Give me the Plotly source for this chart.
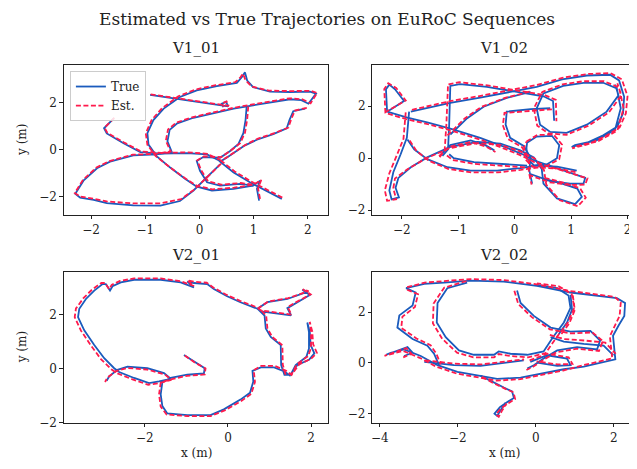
import plotly.graph_objects as go

FONT = "DejaVu Serif"
BLUE = "#1a5bbd"
RED = "#ff1a4c"

titles = ["V1_01", "V1_02", "V2_01", "V2_02"]
legend_names = ["True", "Est."]

# ---------------- V1_01 ----------------
v101_true = [
    [(-0.91, 2.34), (-0.48, 2.20), (-0.05, 2.06), (0.32, 1.94), (0.53, 1.85), (0.49, 2.04), (0.41, 1.96), (0.44, 1.81)],
    [(-1.58, 1.33), (-1.76, 0.91), (-1.71, 0.69), (-1.40, 0.27), (-1.09, -0.11), (-0.72, -0.17), (-0.23, -0.15), (0.14, -0.21), (0.38, -0.49)],
    [(0.38, -0.63), (0.14, -1.19), (-0.11, -1.75), (-0.36, -2.20), (-0.72, -2.40), (-1.22, -2.39), (-1.71, -2.29), (-1.95, -2.15),
     (-2.20, -2.06), (-2.29, -1.89), (-2.14, -1.33), (-1.89, -0.80), (-1.65, -0.52), (-1.22, -0.25), (-0.79, -0.21), (-0.51, -0.11),
     (-0.59, 0.35), (-0.55, 0.84), (-0.41, 1.12), (-0.11, 1.36), (0.26, 1.57), (0.63, 1.75), (0.99, 1.89), (1.36, 2.04), (1.67, 2.15),
     (1.88, 2.11), (2.01, 1.96), (2.15, 2.39), (2.04, 2.48), (1.67, 2.46), (1.30, 2.48), (0.99, 2.67), (0.88, 2.95), (0.84, 3.30),
     (0.78, 3.09), (0.69, 2.85), (0.32, 2.71), (-0.05, 2.53), (-0.36, 2.25), (-0.66, 1.75), (-0.85, 1.26), (-0.96, 0.70), (-0.94, 0.21),
     (-0.79, -0.28), (-0.54, -0.77), (-0.26, -1.26), (-0.05, -1.59), (0.23, -1.75), (0.63, -1.68), (0.99, -1.54)],
    [(1.95, 1.75), (1.73, 1.64), (1.66, 1.26), (1.61, 0.91), (1.36, 0.66), (1.06, 0.42), (0.84, 0.18), (0.69, -0.07), (0.50, -0.35),
     (0.38, -0.52), (0.63, -0.98), (0.93, -1.40), (1.21, -1.73), (1.52, -2.11)],
    [(0.87, 1.82), (0.85, 1.26), (0.81, 0.70), (0.72, 0.24), (0.56, -0.07), (0.38, -0.35), (0.07, -0.32), (-0.05, -0.49), (0.01, -0.91),
     (0.14, -1.40), (0.38, -1.54), (0.75, -1.47), (0.99, -1.54), (1.12, -1.33), (1.06, -1.68), (1.10, -2.18)],
]
v101_est = [
    [(-0.90, 2.36), (-0.47, 2.22), (-0.04, 2.08), (0.33, 1.96), (0.54, 1.87), (0.50, 2.06), (0.42, 1.98), (0.45, 1.83)],
    [(-1.57, 1.36), (-1.75, 0.93), (-1.70, 0.72), (-1.39, 0.30), (-1.08, -0.08), (-0.71, -0.14), (-0.22, -0.12), (0.15, -0.18), (0.39, -0.46)],
    [(0.40, -0.60), (0.16, -1.15), (-0.09, -1.70), (-0.34, -2.12), (-0.72, -2.30), (-1.22, -2.30), (-1.71, -2.22), (-1.95, -2.10),
     (-2.20, -2.01), (-2.30, -1.86), (-2.15, -1.30), (-1.90, -0.77), (-1.66, -0.49), (-1.23, -0.22), (-0.80, -0.18), (-0.53, -0.08),
     (-0.62, 0.37), (-0.58, 0.86), (-0.43, 1.15), (-0.12, 1.39), (0.25, 1.60), (0.62, 1.78), (0.98, 1.93), (1.35, 2.08), (1.66, 2.19),
     (1.90, 2.15), (2.05, 1.98), (2.17, 2.42), (2.05, 2.51), (1.66, 2.50), (1.28, 2.52), (0.96, 2.70), (0.85, 2.97), (0.80, 3.25),
     (0.76, 3.10), (0.66, 2.88), (0.30, 2.75), (-0.07, 2.57), (-0.39, 2.28), (-0.69, 1.77), (-0.88, 1.27), (-0.99, 0.70), (-0.96, 0.20),
     (-0.81, -0.27), (-0.55, -0.75), (-0.27, -1.22), (-0.05, -1.55), (0.24, -1.70), (0.64, -1.63), (1.00, -1.50)],
    [(1.98, 1.78), (1.76, 1.67), (1.69, 1.28), (1.64, 0.94), (1.38, 0.70), (1.07, 0.46), (0.86, 0.22), (0.71, -0.03), (0.52, -0.31),
     (0.40, -0.48), (0.65, -0.94), (0.95, -1.36), (1.23, -1.70), (1.55, -2.08)],
    [(0.90, 1.84), (0.88, 1.28), (0.84, 0.72), (0.75, 0.27), (0.58, -0.04), (0.40, -0.32), (0.08, -0.29), (-0.04, -0.46), (0.03, -0.88),
     (0.16, -1.36), (0.40, -1.50), (0.76, -1.43), (1.00, -1.50), (1.14, -1.30), (1.08, -1.65), (1.12, -2.14)],
]

# ---------------- V1_02 ----------------
v102_true = [
    [(-2.26, 1.79), (-1.96, 2.20), (-2.12, 2.65), (-2.22, 2.83), (-2.28, 2.65), (-2.26, 1.79), (-1.90, 1.56), (-1.55, 1.38), (-1.14, 1.14),
     (-0.61, 0.78), (-0.14, 0.40), (0.16, 0.13), (0.34, -0.08), (0.63, -0.29), (0.98, -0.54), (1.25, -0.76), (1.22, -0.98), (0.98, -0.98),
     (0.63, -0.88), (0.28, -0.61)],
    [(-1.84, 1.79), (-1.55, 1.92), (-1.14, 2.13), (-0.61, 2.33), (-0.08, 2.55), (0.39, 2.74), (0.84, 3.03), (1.28, 3.18), (1.69, 3.21),
     (1.85, 2.99), (1.94, 2.36), (1.92, 1.73), (1.82, 1.22), (1.57, 0.88), (1.28, 0.59), (1.01, 0.43), (1.07, 0.50), (1.45, 0.68),
     (1.78, 1.10), (1.88, 1.92), (1.81, 2.68), (1.57, 2.90), (1.22, 2.90), (0.86, 2.78), (0.51, 2.49), (0.39, 1.92), (0.45, 1.29),
     (0.63, 1.01), (0.92, 0.97), (1.28, 1.29), (1.63, 1.79), (1.84, 2.42), (1.78, 2.83)],
    [(-1.87, 1.79), (-1.89, 1.29), (-1.91, 0.78), (-2.02, 0.15), (-2.15, -0.54), (-2.22, -1.24), (-2.18, -1.59), (-2.05, -1.51),
     (-2.11, -1.14), (-2.06, -0.76), (-1.84, -0.35), (-1.55, 0.03), (-1.14, 0.43), (-0.66, 0.63), (-0.25, 0.56), (0.10, 0.30),
     (0.34, 0.03), (0.48, -0.42), (0.51, -0.98), (0.75, -1.55), (1.07, -1.77), (1.19, -1.49), (1.11, -1.17), (0.84, -0.98), (0.51, -0.79)],
    [(-1.90, 0.72), (-1.78, 0.34), (-1.55, -0.04), (-1.19, -0.35), (-0.78, -0.48), (-0.31, -0.48), (0.10, -0.38), (0.39, -0.29),
     (0.75, -0.33), (1.10, -0.48)],
    [(-1.28, 0.09), (-1.18, 0.34), (-1.16, 1.29), (-1.15, 2.17), (-1.14, 2.78), (-0.97, 2.85), (-0.49, 2.74), (0.04, 2.55), (0.51, 2.38),
     (0.68, 2.20), (0.69, 1.79), (0.70, 1.44)],
    [(-1.31, 0.13), (-1.14, 0.50), (-0.78, 0.68), (-0.52, 0.50), (-0.36, 0.30)],
    [(-1.16, 0.15), (-1.08, 0.00), (-0.72, -0.15), (-0.19, -0.23), (0.22, -0.29)],
    [(-1.14, 0.91), (-0.84, 1.54), (-0.55, 1.98), (-0.14, 2.32), (0.28, 2.55)],
    [(0.63, 1.92), (0.28, 1.89), (-0.14, 1.79), (-0.16, 1.29), (-0.08, 0.78), (0.16, 0.47), (0.28, 0.03), (0.26, -0.48), (0.31, -0.98)],
    [(0.22, 0.59), (0.39, 0.83), (0.66, 0.86), (0.79, 0.50), (0.75, 0.00), (0.56, -0.25), (0.34, -0.28), (0.22, 0.00), (0.21, 0.40), (0.22, 0.59)],
]
v102_est = [
    [(-2.30, 1.76), (-1.93, 2.22), (-2.10, 2.70), (-2.24, 2.88), (-2.31, 2.66), (-2.29, 1.74), (-1.92, 1.50), (-1.56, 1.32), (-1.15, 1.08),
     (-0.62, 0.72), (-0.15, 0.34), (0.15, 0.07), (0.34, -0.14), (0.64, -0.34), (0.99, -0.58), (1.29, -0.78), (1.25, -1.02), (0.98, -1.03),
     (0.62, -0.93), (0.27, -0.66)],
    [(-1.82, 1.86), (-1.54, 1.99), (-1.13, 2.20), (-0.60, 2.40), (-0.07, 2.62), (0.40, 2.82), (0.86, 3.10), (1.30, 3.24), (1.70, 3.27),
     (1.90, 3.03), (2.00, 2.38), (1.97, 1.72), (1.86, 1.18), (1.60, 0.83), (1.30, 0.54), (1.02, 0.38), (1.08, 0.46), (1.47, 0.64),
     (1.82, 1.06), (1.93, 1.92), (1.85, 2.72), (1.58, 2.96), (1.22, 2.96), (0.85, 2.84), (0.49, 2.55), (0.34, 1.92), (0.40, 1.25),
     (0.60, 0.95), (0.92, 0.90), (1.30, 1.24), (1.67, 1.76), (1.89, 2.42), (1.82, 2.88)],
    [(-1.93, 1.76), (-1.95, 1.27), (-1.97, 0.74), (-2.09, 0.10), (-2.22, -0.58), (-2.30, -1.24), (-2.26, -1.64), (-2.10, -1.58),
     (-2.15, -1.16), (-2.12, -0.78), (-1.88, -0.40), (-1.58, -0.02), (-1.16, 0.38), (-0.67, 0.58), (-0.25, 0.51), (0.11, 0.25),
     (0.36, -0.02), (0.52, -0.46), (0.56, -1.02), (0.80, -1.62), (1.12, -1.85), (1.26, -1.52), (1.16, -1.16), (0.86, -0.94), (0.52, -0.75)],
    [(-1.86, 0.68), (-1.74, 0.28), (-1.52, -0.10), (-1.17, -0.42), (-0.77, -0.55), (-0.30, -0.55), (0.11, -0.45), (0.40, -0.36),
     (0.76, -0.40), (1.12, -0.55)],
    [(-1.33, 0.04), (-1.24, 0.30), (-1.21, 1.28), (-1.20, 2.17), (-1.18, 2.84), (-0.98, 2.92), (-0.48, 2.80), (0.05, 2.60), (0.53, 2.43),
     (0.73, 2.24), (0.74, 1.80), (0.74, 1.42)],
    [(-1.34, 0.08), (-1.15, 0.44), (-0.78, 0.62), (-0.50, 0.44), (-0.34, 0.24)],
    [(-1.20, 0.10), (-1.10, -0.07), (-0.72, -0.22), (-0.19, -0.30), (0.23, -0.36)],
    [(-1.19, 0.88), (-0.89, 1.52), (-0.59, 1.97), (-0.17, 2.32), (0.27, 2.56)],
    [(0.66, 1.88), (0.29, 1.83), (-0.18, 1.74), (-0.21, 1.27), (-0.12, 0.74), (0.13, 0.42), (0.26, -0.02), (0.25, -0.52), (0.30, -1.02)],
    [(0.21, 0.64), (0.40, 0.89), (0.69, 0.91), (0.84, 0.52), (0.79, -0.04), (0.57, -0.30), (0.32, -0.33), (0.18, -0.02), (0.17, 0.42), (0.21, 0.64)],
]

# ---------------- V2_01 ----------------
v201_true = [
    [(-1.06, 0.50), (-0.82, 0.26), (-0.56, 0.01), (-0.58, -0.18), (-0.98, -0.23), (-1.38, -0.35), (-1.58, -0.50), (-1.62, -0.96),
     (-1.58, -1.39), (-1.46, -1.66), (-0.98, -1.72), (-0.42, -1.72), (-0.10, -1.51), (0.30, -1.15), (0.53, -0.90), (0.61, -0.48),
     (0.59, -0.09), (0.79, 0.04), (1.11, 0.04), (1.36, -0.11), (1.49, -0.26), (1.67, 0.13), (1.95, 0.32), (2.08, 0.56), (1.99, 0.87),
     (1.97, 1.35), (1.91, 1.70), (1.95, 1.35), (1.95, 0.74), (1.89, 0.44), (1.63, 0.13), (1.51, -0.23), (1.36, -0.23), (1.28, 0.13),
     (1.27, 0.87), (1.03, 1.17), (0.91, 1.48), (0.88, 1.96), (0.71, 2.21), (0.95, 2.45), (1.43, 2.57), (1.92, 2.84), (1.79, 2.91),
     (1.97, 2.72), (1.59, 2.39), (1.43, 2.23), (1.52, 1.96), (1.19, 2.02), (0.79, 2.11), (0.71, 2.21), (0.30, 2.45), (-0.02, 2.67),
     (-0.34, 2.94), (-0.50, 3.12), (-0.82, 3.16), (-0.98, 3.21), (-0.82, 3.00), (-1.14, 3.18), (-1.62, 3.28), (-2.26, 3.28),
     (-2.58, 3.18), (-2.78, 3.04), (-2.84, 2.88), (-2.94, 3.12), (-3.02, 3.12), (-3.22, 2.88), (-3.42, 2.57), (-3.58, 2.21),
     (-3.61, 1.90), (-3.46, 1.41), (-3.22, 0.87), (-2.98, 0.38), (-2.74, 0.01), (-2.62, -0.13), (-2.26, -0.35), (-1.90, -0.54),
     (-1.66, -0.48), (-1.38, -0.38), (-1.54, -0.17), (-1.94, 0.01), (-2.42, 0.07), (-2.66, -0.05), (-2.86, -0.29), (-2.92, -0.45)],
]
v201_est = [
    [(-1.04, 0.48), (-0.80, 0.22), (-0.54, 0.00), (-0.56, -0.22), (-0.98, -0.27), (-1.38, -0.40), (-1.62, -0.52), (-1.66, -0.96),
     (-1.62, -1.41), (-1.48, -1.70), (-0.98, -1.76), (-0.42, -1.76), (-0.08, -1.55), (0.32, -1.20), (0.56, -0.94), (0.65, -0.50),
     (0.62, -0.06), (0.80, 0.10), (1.12, 0.10), (1.40, -0.08), (1.53, -0.24), (1.72, 0.16), (2.00, 0.36), (2.14, 0.58), (2.05, 0.90),
     (2.03, 1.36), (1.97, 1.72), (2.00, 1.36), (2.00, 0.76), (1.93, 0.46), (1.66, 0.16), (1.54, -0.19), (1.38, -0.20), (1.32, 0.14),
     (1.31, 0.86), (1.07, 1.16), (0.95, 1.48), (0.92, 1.96), (0.74, 2.24), (0.97, 2.48), (1.45, 2.60), (1.94, 2.86), (1.80, 2.93),
     (1.99, 2.74), (1.60, 2.42), (1.44, 2.27), (1.53, 1.99), (1.19, 2.06), (0.79, 2.15), (0.70, 2.26), (0.29, 2.50), (-0.03, 2.72),
     (-0.35, 2.99), (-0.51, 3.17), (-0.82, 3.21), (-0.98, 3.26), (-0.82, 3.05), (-1.14, 3.23), (-1.62, 3.33), (-2.26, 3.33),
     (-2.60, 3.24), (-2.80, 3.09), (-2.86, 2.93), (-2.96, 3.16), (-3.05, 3.16), (-3.27, 2.92), (-3.48, 2.60), (-3.66, 2.22),
     (-3.69, 1.90), (-3.54, 1.40), (-3.30, 0.85), (-3.06, 0.35), (-2.81, -0.03), (-2.68, -0.17), (-2.30, -0.40), (-1.92, -0.60),
     (-1.66, -0.54), (-1.36, -0.42), (-1.52, -0.22), (-1.94, -0.04), (-2.42, 0.02), (-2.68, -0.09), (-2.90, -0.33), (-2.96, -0.50)],
]

# ---------------- V2_02 ----------------
v202_true = [
    [(-3.33, 2.94), (-2.86, 3.11), (-2.35, 3.16), (-1.67, 3.24), (-0.82, 3.20), (0.03, 3.03), (0.89, 2.77), (1.57, 2.65), (2.08, 2.55),
     (2.29, 2.36), (2.27, 1.85), (2.12, 1.46), (1.98, 1.07), (2.04, 0.14), (1.74, 0.04), (1.23, -0.15), (0.72, -0.25), (0.20, -0.41),
     (-0.39, -0.58), (-0.99, -0.63), (-1.42, -0.50), (-2.01, -0.35), (-2.52, -0.09), (-2.95, 0.27), (-3.38, 0.53), (-3.72, 0.40),
     (-3.84, 0.32), (-3.55, 0.49), (-3.29, 0.62), (-3.16, 0.40), (-3.38, 0.27)],
    [(-1.76, 3.16), (-2.27, 2.94), (-2.52, 2.36), (-2.54, 1.59), (-2.31, 1.01), (-1.97, 0.49), (-1.59, 0.32), (-1.07, 0.32), (-0.95, 0.45),
     (-0.65, 0.36), (-0.22, 0.32), (0.20, 0.45), (0.44, 1.01), (0.72, 1.59), (0.89, 2.17), (0.84, 2.65), (0.55, 2.94), (0.03, 3.07)],
    [(-3.33, 2.94), (-3.08, 2.77), (-3.16, 2.26), (-3.50, 1.87), (-3.55, 1.39), (-3.16, 0.94), (-2.78, 0.68), (-2.61, 0.36), (-2.48, -0.09)],
    [(-1.42, -0.50), (-1.16, -0.71), (-0.82, -0.97), (-0.61, -1.12), (-0.56, -1.38), (-0.73, -1.54), (-0.92, -1.74), (-1.06, -2.00),
     (-0.99, -2.09), (-0.89, -1.83), (-0.78, -1.57)],
    [(-0.48, 2.85), (-0.39, 2.36), (-0.05, 1.85), (0.38, 1.39), (0.89, 1.23), (1.40, 1.26), (1.65, 0.88), (1.57, 0.53), (1.06, 0.62),
     (0.55, 0.49), (0.20, 0.17), (-0.05, -0.09), (-0.22, -0.22)],
    [(0.38, 1.01), (0.72, 0.84), (1.23, 0.75), (1.74, 0.68), (1.99, 0.30)],
    [(-0.14, 0.04), (0.29, 0.30), (0.80, 0.17), (0.89, -0.09), (0.55, -0.12), (0.03, 0.01)],
    [(0.89, 2.68), (0.93, 2.10), (0.80, 1.59), (0.59, 1.14)],
    [(-2.86, 0.04), (-2.10, -0.09), (-1.42, -0.12), (-0.82, 0.01), (-0.31, 0.10)],
]
v202_est = [
    [(-3.30, 2.98), (-2.85, 3.16), (-2.35, 3.22), (-1.67, 3.30), (-0.82, 3.26), (0.03, 3.09), (0.88, 2.83), (1.55, 2.71), (2.02, 2.60),
     (2.18, 2.38), (2.15, 1.85), (2.02, 1.44), (1.90, 1.05), (1.96, 0.18), (1.72, 0.10), (1.22, -0.09), (0.70, -0.30), (0.18, -0.47),
     (-0.40, -0.64), (-1.00, -0.70), (-1.44, -0.57), (-2.03, -0.42), (-2.55, -0.15), (-2.98, 0.20), (-3.40, 0.47), (-3.74, 0.34),
     (-3.88, 0.28), (-3.58, 0.44), (-3.32, 0.58), (-3.19, 0.36), (-3.40, 0.22)],
    [(-1.78, 3.22), (-2.35, 2.96), (-2.62, 2.34), (-2.64, 1.56), (-2.40, 0.95), (-2.02, 0.40), (-1.60, 0.22), (-1.07, 0.22), (-0.95, 0.35),
     (-0.65, 0.27), (-0.20, 0.22), (0.25, 0.38), (0.52, 0.98), (0.82, 1.58), (0.99, 2.17), (0.92, 2.72), (0.58, 3.02), (0.03, 3.13)],
    [(-3.30, 2.88), (-3.02, 2.70), (-3.10, 2.20), (-3.42, 1.82), (-3.45, 1.38), (-3.06, 0.96), (-2.70, 0.70), (-2.55, 0.36), (-2.44, -0.06)],
    [(-1.38, -0.55), (-1.12, -0.77), (-0.78, -1.02), (-0.57, -1.16), (-0.53, -1.42), (-0.70, -1.58), (-0.89, -1.78), (-1.02, -2.03),
     (-0.95, -2.12), (-0.86, -1.86), (-0.75, -1.60)],
    [(-0.55, 2.84), (-0.45, 2.32), (-0.10, 1.80), (0.36, 1.32), (0.90, 1.16), (1.45, 1.20), (1.72, 0.86), (1.62, 0.47), (1.06, 0.56),
     (0.53, 0.42), (0.18, 0.10), (-0.07, -0.15), (-0.24, -0.28)],
    [(0.36, 1.10), (0.72, 0.94), (1.25, 0.88), (1.78, 0.80), (2.05, 0.36)],
    [(-0.16, 0.10), (0.30, 0.36), (0.84, 0.22), (0.94, -0.04), (0.56, -0.06), (0.02, 0.06)],
    [(0.95, 2.66), (1.00, 2.08), (0.86, 1.56), (0.64, 1.10)],
    [(-2.84, 0.10), (-2.08, -0.03), (-1.40, -0.06), (-0.80, 0.06), (-0.30, 0.14)],
]

x_ranges = [[-2.50, 2.38], [-2.52, 2.15], [-3.95, 2.42], [-4.19, 2.57]]
y_ranges = [[-2.79, 3.61], [-2.18, 3.58], [-2.0, 3.57], [-2.35, 3.58]]
x_ticks = [[-2, -1, 0, 1, 2], [-2, -1, 0, 1, 2], [-2, 0, 2], [-4, -2, 0, 2]]
y_ticks = [[-2, 0, 2], [-2, 0, 2], [-2, 0, 2], [-2, 0, 2]]

# page body has an 8px margin; lay the figure out in window pixels minus that offset
OFF = 8
W, H = 637 - OFF, 469 - OFF
col_px = [(63, 328), (372, 636)]
row_px = [(66, 218), (276, 429)]


def px_x(p):
    return (p - OFF) / W


def px_y(p):
    return 1 - (p - OFF) / H


def flatten(strokes):
    xs, ys = [], []
    for s in strokes:
        for x, y in s:
            xs.append(x)
            ys.append(y)
        xs.append(None)
        ys.append(None)
    return xs, ys


fig = go.Figure()
datasets = [(v101_true, v101_est), (v102_true, v102_est), (v201_true, v201_est), (v202_true, v202_est)]
for i, (tr, es) in enumerate(datasets):
    ax = "" if i == 0 else str(i + 1)
    tx, ty = flatten(tr)
    ex, ey = flatten(es)
    fig.add_trace(go.Scatter(x=tx, y=ty, mode="lines", name=legend_names[0], showlegend=(i == 0),
                             line=dict(color=BLUE, width=1.8), xaxis="x" + ax, yaxis="y" + ax))
    fig.add_trace(go.Scatter(x=ex, y=ey, mode="lines", name=legend_names[1], showlegend=(i == 0),
                             line=dict(color=RED, width=1.8, dash="5px,2.5px"), xaxis="x" + ax, yaxis="y" + ax))

axis_style = dict(showline=True, linecolor="#222", linewidth=1, mirror=True, ticks="outside", ticklen=3.5,
                  tickwidth=0.9, tickcolor="#222", showgrid=False, zeroline=False,
                  tickfont=dict(family=FONT, size=12, color="#222"))
layout = {}
annotations = []
for i in range(4):
    r, c = divmod(i, 2)
    ax = "" if i == 0 else str(i + 1)
    x0, x1 = col_px[c]
    y0, y1 = row_px[r]
    layout["xaxis" + ax] = dict(axis_style, domain=[px_x(x0), px_x(x1)], range=x_ranges[i], tickvals=x_ticks[i],
                                anchor="y" + ax)
    layout["yaxis" + ax] = dict(axis_style, domain=[px_y(y1), px_y(y0)], range=y_ranges[i], tickvals=y_ticks[i],
                                anchor="x" + ax)
    annotations.append(dict(text=titles[i], x=px_x((x0 + x1) / 2), y=px_y(y0 - 6), xref="paper", yref="paper",
                            xanchor="center", yanchor="bottom", showarrow=False,
                            font=dict(family=FONT, size=15, color="#222")))

annotations.append(dict(text="Estimated vs True Trajectories on EuRoC Sequences", x=px_x(327), y=px_y(OFF),
                        xref="paper", yref="paper", xanchor="center", yanchor="top", showarrow=False,
                        borderpad=0, font=dict(family=FONT, size=17, color="#222")))
for r in range(2):
    y0, y1 = row_px[r]
    annotations.append(dict(text="y (m)", x=px_x(21), y=px_y((y0 + y1) / 2), xref="paper", yref="paper",
                            xanchor="center", yanchor="middle", textangle=-90, showarrow=False,
                            font=dict(family=FONT, size=12, color="#222")))
for c in range(2):
    x0, x1 = col_px[c]
    annotations.append(dict(text="x (m)", x=px_x((x0 + x1) / 2), y=px_y(460), xref="paper", yref="paper",
                            xanchor="center", yanchor="middle", showarrow=False,
                            font=dict(family=FONT, size=12, color="#222")))

fig.update_layout(
    width=W, height=H, margin=dict(l=0, r=0, t=0, b=0),
    paper_bgcolor="white", plot_bgcolor="white",
    annotations=annotations,
    legend=dict(x=px_x(69), y=px_y(72), xanchor="left", yanchor="top", bgcolor="rgba(255,255,255,0.85)",
                bordercolor="#cccccc", borderwidth=1, font=dict(family=FONT, size=12, color="#222"),
                tracegroupgap=0, itemwidth=30),
    **layout,
)
fig.write_html("out.html")
